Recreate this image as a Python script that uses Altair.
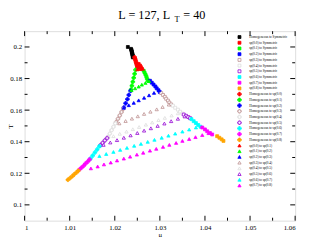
import altair as alt
import pandas as pd

# ---------------- data ----------------
names = [
    "Homogeneous to Symmetric", "sp(0.0) to Symmetric", "sp(0.1) to Symmetric",
    "sp(0.2) to Symmetric", "sp(0.3) to Symmetric", "sp(0.4) to Symmetric",
    "sp(0.5) to Symmetric", "sp(0.6) to Symmetric", "sp(0.7) to Symmetric",
    "sp(0.8) to Symmetric",
    "Homogeneous to sp(0.0)", "Homogeneous to sp(0.1)", "Homogeneous to sp(0.2)",
    "Homogeneous to sp(0.3)", "Homogeneous to sp(0.4)", "Homogeneous to sp(0.5)",
    "Homogeneous to sp(0.6)", "Homogeneous to sp(0.7)", "Homogeneous to sp(0.8)",
    "sp(0.0) to sp(0.1)", "sp(0.1) to sp(0.2)", "sp(0.2) to sp(0.3)",
    "sp(0.3) to sp(0.4)", "sp(0.4) to sp(0.5)", "sp(0.5) to sp(0.6)",
    "sp(0.6) to sp(0.7)", "sp(0.7) to sp(0.8)",
]

mu = [
    # squares: X to Symmetric
    [1.0229, 1.0236, 1.0237, 1.0237, 1.0238, 1.0238, 1.0239, 1.0239, 1.0240, 1.0240, 1.0240],
    [1.0253, 1.0256, 1.0258, 1.0260],
    [1.0264, 1.0266, 1.0268, 1.0270, 1.0271, 1.0273, 1.0275],
    [1.0278, 1.0282, 1.0286, 1.0290, 1.0293, 1.0297, 1.0300],
    [1.0303, 1.0307, 1.0311, 1.0314, 1.0318, 1.0321, 1.0325],
    [1.0329, 1.0334, 1.0340, 1.0345, 1.0350],
    [1.0353, 1.0358, 1.0363, 1.0367],
    [1.0370, 1.0375, 1.0380, 1.0385, 1.0390],
    [1.0394, 1.0400, 1.0405, 1.0411, 1.0416],
    [1.0427, 1.0432, 1.0437, 1.0441],
    # crosses: Homogeneous to sp(x)
    [1.0244, 1.0245, 1.0246, 1.0247, 1.0248, 1.0249, 1.0250, 1.0250],
    [1.0236, 1.0238, 1.0240, 1.0242, 1.0244, 1.0246],
    [1.0220, 1.0224, 1.0228, 1.0231, 1.0235],
    [1.0203, 1.0207, 1.0211, 1.0215, 1.0219],
    [1.0185, 1.0189, 1.0193, 1.0197, 1.0201],
    [1.0168, 1.0173, 1.0178, 1.0183],
    [1.0146, 1.0151, 1.0156, 1.0161, 1.0166],
    [1.0121, 1.0126, 1.0131, 1.0135, 1.0140, 1.0144],
    [1.0096, 1.0101, 1.0106, 1.0110, 1.0115, 1.0119],
    # triangles: sp(x) to sp(x+1)
    [1.0250, 1.0256, 1.0262],
    [1.0237, 1.0245, 1.0253, 1.0260, 1.0268, 1.0276],
    [1.0220, 1.0231, 1.0242, 1.0253, 1.0265, 1.0276, 1.0287, 1.0298],
    [1.0210, 1.0224, 1.0238, 1.0251, 1.0265, 1.0279, 1.0293, 1.0306, 1.0320],
    [1.0197, 1.0211, 1.0226, 1.0240, 1.0254, 1.0269, 1.0283, 1.0297, 1.0311, 1.0326, 1.0340],
    [1.0175, 1.0190, 1.0205, 1.0220, 1.0235, 1.0250, 1.0265, 1.0280, 1.0295, 1.0310,
     1.0325, 1.0340, 1.0355],
    [1.0166, 1.0181, 1.0197, 1.0212, 1.0227, 1.0243, 1.0258, 1.0273, 1.0288, 1.0304,
     1.0319, 1.0334, 1.0350, 1.0365, 1.0380],
    [1.0147, 1.0162, 1.0176, 1.0191, 1.0205, 1.0220, 1.0234, 1.0249, 1.0263, 1.0278,
     1.0292, 1.0307, 1.0321, 1.0336, 1.0350, 1.0365, 1.0379, 1.0394, 1.0408],
]

T = [
    [0.2000, 0.1988, 0.1982, 0.1976, 0.1970, 0.1964, 0.1958, 0.1952, 0.1946, 0.1940, 0.1934],
    [0.1892, 0.1882, 0.1872, 0.1862],
    [0.1850, 0.1838, 0.1826, 0.1814, 0.1802, 0.1790, 0.1784],
    [0.1786, 0.1774, 0.1762, 0.1750, 0.1738, 0.1726, 0.1714],
    [0.1708, 0.1696, 0.1684, 0.1672, 0.1660, 0.1648, 0.1636],
    [0.1628, 0.1615, 0.1603, 0.1590, 0.1578],
    [0.1572, 0.1564, 0.1556, 0.1549],
    [0.1543, 0.1530, 0.1518, 0.1506, 0.1495],
    [0.1490, 0.1478, 0.1466, 0.1455, 0.1446],
    [0.1435, 0.1425, 0.1415, 0.1405],
    [0.1935, 0.1925, 0.1915, 0.1905, 0.1895, 0.1885, 0.1875, 0.1865],
    [0.1730, 0.1755, 0.1780, 0.1805, 0.1830, 0.1855],
    [0.1616, 0.1643, 0.1669, 0.1696, 0.1722],
    [0.1524, 0.1545, 0.1566, 0.1588, 0.1609],
    [0.1430, 0.1451, 0.1473, 0.1494, 0.1516],
    [0.1377, 0.1392, 0.1408, 0.1423],
    [0.1293, 0.1312, 0.1332, 0.1351, 0.1371],
    [0.1222, 0.1235, 0.1248, 0.1261, 0.1274, 0.1287],
    [0.1159, 0.1170, 0.1182, 0.1193, 0.1205, 0.1216],
    [0.1858, 0.1860, 0.1862],
    [0.1726, 0.1738, 0.1749, 0.1761, 0.1772, 0.1784],
    [0.1615, 0.1631, 0.1646, 0.1662, 0.1678, 0.1694, 0.1709, 0.1725],
    [0.1516, 0.1531, 0.1546, 0.1561, 0.1576, 0.1590, 0.1605, 0.1620, 0.1635],
    [0.1435, 0.1450, 0.1464, 0.1479, 0.1493, 0.1508, 0.1522, 0.1537, 0.1551, 0.1566, 0.1580],
    [0.1380, 0.1395, 0.1410, 0.1425, 0.1440, 0.1455, 0.1470, 0.1485, 0.1500, 0.1515,
     0.1530, 0.1545, 0.1560],
    [0.1309, 0.1322, 0.1335, 0.1348, 0.1361, 0.1374, 0.1386, 0.1399, 0.1412, 0.1425,
     0.1438, 0.1451, 0.1464, 0.1477, 0.1490],
    [0.1231, 0.1243, 0.1256, 0.1268, 0.1281, 0.1293, 0.1305, 0.1318, 0.1330, 0.1343,
     0.1355, 0.1367, 0.1380, 0.1392, 0.1405, 0.1417, 0.1429, 0.1442, 0.1454],
]

x_major = [1.00, 1.01, 1.02, 1.03, 1.04, 1.05, 1.06]
x_minor = [1.005, 1.015, 1.025, 1.035, 1.045, 1.055]
y_major = [0.10, 0.12, 0.14, 0.16, 0.18, 0.20]
y_minor = [0.11, 0.13, 0.15, 0.17, 0.19]

# ---------------- styles ----------------
BLACK, RED, GREEN, BLUE = "#000000", "#ff0000", "#00ff00", "#0000ff"
BROWN, GREY, VIOLET = "#bc8f8f", "#dcdcdc", "#9400d3"
CYAN, MAGENTA, ORANGE = "#00ffff", "#ff00ff", "#ffa500"
sq_cols = [BLACK, RED, GREEN, BLUE, BROWN, GREY, VIOLET, CYAN, MAGENTA, ORANGE]
cr_cols = [RED, GREEN, BLUE, BROWN, GREY, VIOLET, CYAN, MAGENTA, ORANGE]
tr_cols = [RED, GREEN, BLUE, BROWN, GREY, VIOLET, CYAN, MAGENTA]
strokes = sq_cols + cr_cols + tr_cols
hollow = {BROWN, GREY, VIOLET}
fills = ["#ffffff" if c in hollow else c for c in strokes]
shapes = ["square"] * 10 + ["cross"] * 9 + ["triangle-up"] * 8
sizes = [9] * 10 + [14] * 9 + [11] * 8

rows = []
for i, n in enumerate(names):
    for m, t in zip(mu[i], T[i]):
        rows.append({"series": n, "mu": m, "T": t, "sz": sizes[i], "ord": i})
df = pd.DataFrame(rows)
leg = pd.DataFrame({"series": names, "row": list(range(len(names))), "sz": sizes})

W, H = 277, 194
FONT = "Liberation Serif"

xs = alt.Scale(domain=[1.0, 1.06], nice=False, zero=False)
ys = alt.Scale(domain=[0.09, 0.21], nice=False, zero=False)
fill_s = alt.Scale(domain=names, range=fills)
stroke_s = alt.Scale(domain=names, range=strokes)
shape_s = alt.Scale(domain=names, range=shapes)

points = alt.Chart(df).mark_point(opacity=1, strokeWidth=0.8).encode(
    x=alt.X("mu:Q", scale=xs,
            axis=alt.Axis(values=x_major, format="~g", ticks=False, domain=False,
                          grid=False, labelFont=FONT, labelFontSize=7,
                          labelColor="#000000", labelPadding=3,
                          title="μ", titleFont=FONT, titleFontSize=7,
                          titleFontWeight="normal", titlePadding=0)),
    y=alt.Y("T:Q", scale=ys,
            axis=alt.Axis(values=y_major, format="~g", ticks=False, domain=False,
                          grid=False, labelFont=FONT, labelFontSize=7,
                          labelColor="#000000", labelPadding=3,
                          title="T", titleFont=FONT, titleFontSize=7,
                          titleFontWeight="normal", titleX=-14, titleY=H / 2,
                          titleAngle=270, titleBaseline="middle", titleAlign="center")),
    fill=alt.Fill("series:N", scale=fill_s, legend=None),
    stroke=alt.Stroke("series:N", scale=stroke_s, legend=None),
    shape=alt.Shape("series:N", scale=shape_s, legend=None),
    size=alt.Size("sz:Q", scale=None),
    order=alt.Order("ord:Q"),
)

# hand-made legend (rows of the key placed by a row scale)
row_s = alt.Scale(domain=[0, len(names) - 1], range=[6, 158])
leg_sym = alt.Chart(leg).mark_point(opacity=1, strokeWidth=0.8).encode(
    x=alt.value(220),
    y=alt.Y("row:Q", scale=row_s, axis=None),
    fill=alt.Fill("series:N", scale=fill_s, legend=None),
    stroke=alt.Stroke("series:N", scale=stroke_s, legend=None),
    shape=alt.Shape("series:N", scale=shape_s, legend=None),
    size=alt.Size("sz:Q", scale=None),
)
leg_txt = alt.Chart(leg).mark_text(
    font=FONT, fontSize=3.4, align="left", baseline="middle", color="#000000"
).encode(
    x=alt.value(230),
    y=alt.Y("row:Q", scale=row_s, axis=None),
    text="series:N",
)

xmaj = pd.DataFrame({"v": x_major})
xmin = pd.DataFrame({"v": x_minor})
ymaj = pd.DataFrame({"v": y_major})
ymin = pd.DataFrame({"v": y_minor})

def xticks(d, L):
    b = alt.Chart(d).mark_rule(color="#000000", strokeWidth=1)
    return (b.encode(x=alt.X("v:Q", scale=xs), y=alt.value(H), y2=alt.value(H - L)) +
            b.encode(x=alt.X("v:Q", scale=xs), y=alt.value(0), y2=alt.value(L)))

def yticks(d, L):
    b = alt.Chart(d).mark_rule(color="#000000", strokeWidth=1)
    return (b.encode(y=alt.Y("v:Q", scale=ys, axis=None), x=alt.value(0), x2=alt.value(L)) +
            b.encode(y=alt.Y("v:Q", scale=ys, axis=None), x=alt.value(W), x2=alt.value(W - L)))

t1 = alt.Chart(pd.DataFrame({"a": [0]})).mark_text(
    text="L = 127,  L", font=FONT, fontSize=12.5, align="left", baseline="alphabetic",
    color="#000000").encode(x=alt.value(96), y=alt.value(-12.5))
t2 = alt.Chart(pd.DataFrame({"a": [0]})).mark_text(
    text="T", font=FONT, fontSize=8.5, align="left", baseline="alphabetic",
    color="#000000").encode(x=alt.value(153.5), y=alt.value(-9.5))
t3 = alt.Chart(pd.DataFrame({"a": [0]})).mark_text(
    text="= 40", font=FONT, fontSize=12.5, align="left", baseline="alphabetic",
    color="#000000").encode(x=alt.value(162.5), y=alt.value(-12.5))

chart = alt.layer(
    points, leg_sym, leg_txt,
    xticks(xmaj, 5), xticks(xmin, 3), yticks(ymaj, 5), yticks(ymin, 3), t1, t2, t3
).resolve_scale(y="independent").resolve_axis(y="independent").properties(
    width=W, height=H, autosize="none",
    padding={"left": 17, "top": 21, "right": 6, "bottom": 14},
).configure_view(stroke="#000000", strokeWidth=1).configure(background="#ffffff")

chart.save("out.html", embed_options={"renderer": "svg", "actions": False})
